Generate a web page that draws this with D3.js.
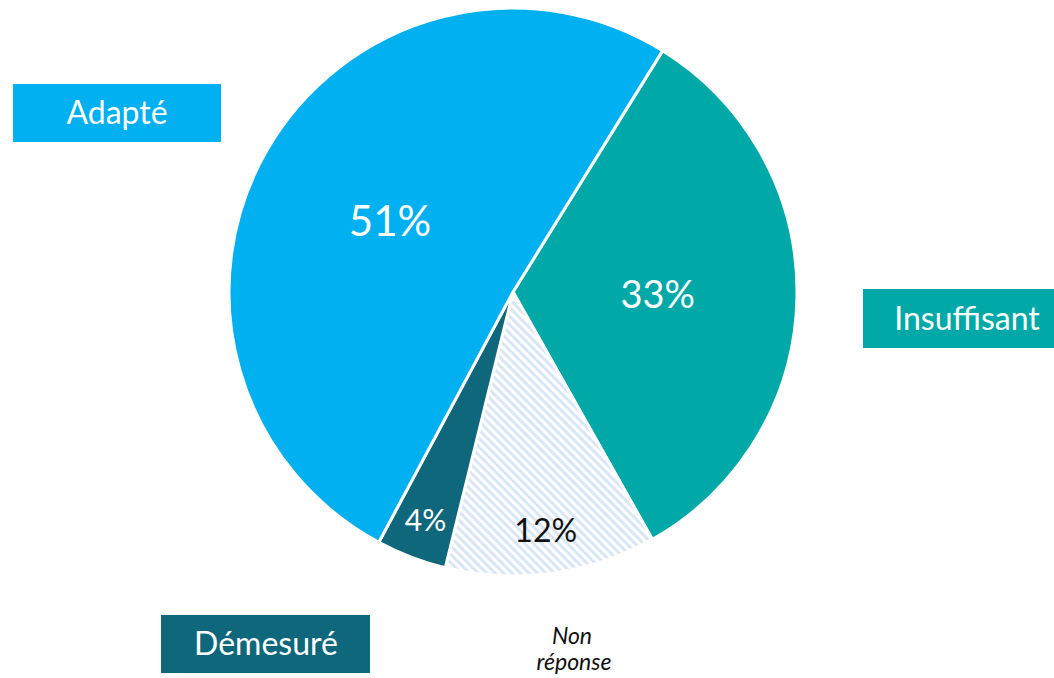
<!DOCTYPE html>
<html>
<head>
<meta charset="utf-8">
<script src="https://cdn.jsdelivr.net/npm/d3@7"></script>
<style>
  html, body { margin: 0; padding: 0; background: #fff; }
  svg { display: block; font-family: Lato, "Noto Sans", sans-serif; }
</style>
</head>
<body>
<script>
// slices, clockwise from the Adapté/Insuffisant boundary
var categories = ["Insuffisant", "Non réponse", "Démesuré", "Adapté"];
var values = [33, 12, 4, 51];
var valueLabels = ["33%", "12%", "4%", "51%"];
var colors = ["#00A9A7", "url(#hatch)", "#0F677C", "#00B0F0"];

var width = 1054, height = 678;
var cx = 513, cy = 292, radius = 284;

var svg = d3.select("body").append("svg")
  .attr("width", width)
  .attr("height", height);

// hatch pattern for the "Non réponse" slice
var pat = svg.append("defs").append("pattern")
  .attr("id", "hatch")
  .attr("patternUnits", "userSpaceOnUse")
  .attr("width", 6)
  .attr("height", 6)
  .attr("patternTransform", "rotate(45)");
pat.append("rect").attr("width", 6).attr("height", 6).attr("fill", "#fff");
pat.append("rect").attr("width", 6).attr("height", 3).attr("fill", "#D9E6F6");

var start = 31.8 * Math.PI / 180;
var pie = d3.pie().sort(null).startAngle(start).endAngle(start + 2 * Math.PI);
var arcs = pie(values);

var arc = d3.arc().innerRadius(0).outerRadius(radius);

var g = svg.append("g").attr("transform", "translate(" + cx + "," + cy + ")");

g.selectAll("path")
  .data(arcs)
  .enter()
  .append("path")
  .attr("d", arc)
  .attr("fill", function (d, i) { return colors[i]; })
  .attr("stroke", "#fff")
  .attr("stroke-width", 3)
  .attr("stroke-linejoin", "round");

// label placement (fraction of radius, font size, colour)
var labelR = [0.51, 0.85, 0.86, 0.5];
var labelSize = [38, 32, 30, 42];
var labelFill = ["#fff", "#111", "#fff", "#fff"];

g.selectAll("text.pct")
  .data(arcs)
  .enter()
  .append("text")
  .attr("class", "pct")
  .attr("transform", function (d, i) {
    var r = radius * labelR[i];
    var c = d3.arc().innerRadius(r).outerRadius(r).centroid(d);
    return "translate(" + c[0] + "," + c[1] + ")";
  })
  .attr("text-anchor", "middle")
  .attr("dy", "0.35em")
  .attr("font-size", function (d, i) { return labelSize[i] + "px"; })
  .attr("fill", function (d, i) { return labelFill[i]; })
  .text(function (d, i) { return valueLabels[i]; });

// category boxes
var boxes = [
  { name: "Adapté", x: 13, y: 84, w: 208, h: 58, fill: colors[3], tx: 117 },
  { name: "Insuffisant", x: 863, y: 289, w: 191, h: 59, fill: colors[0], tx: 967 },
  { name: "Démesuré", x: 161, y: 615, w: 209, h: 58, fill: colors[2], tx: 266 }
];

var bg = svg.selectAll("g.box")
  .data(boxes)
  .enter()
  .append("g")
  .attr("class", "box");

bg.append("rect")
  .attr("x", function (d) { return d.x; })
  .attr("y", function (d) { return d.y; })
  .attr("width", function (d) { return d.w; })
  .attr("height", function (d) { return d.h; })
  .attr("fill", function (d) { return d.fill; });

bg.append("text")
  .attr("x", function (d) { return d.tx; })
  .attr("y", function (d) { return d.y + d.h / 2; })
  .attr("dy", "0.35em")
  .attr("text-anchor", "middle")
  .attr("font-size", "32px")
  .attr("fill", "#fff")
  .text(function (d) { return d.name; });

// Non réponse label
var nr = svg.append("text")
  .attr("text-anchor", "middle")
  .attr("font-size", "23px")
  .attr("font-style", "italic")
  .attr("fill", "#111");
nr.append("tspan").attr("x", 572).attr("y", 644).text("Non");
nr.append("tspan").attr("x", 574).attr("y", 670).text("réponse");
</script>
</body>
</html>
